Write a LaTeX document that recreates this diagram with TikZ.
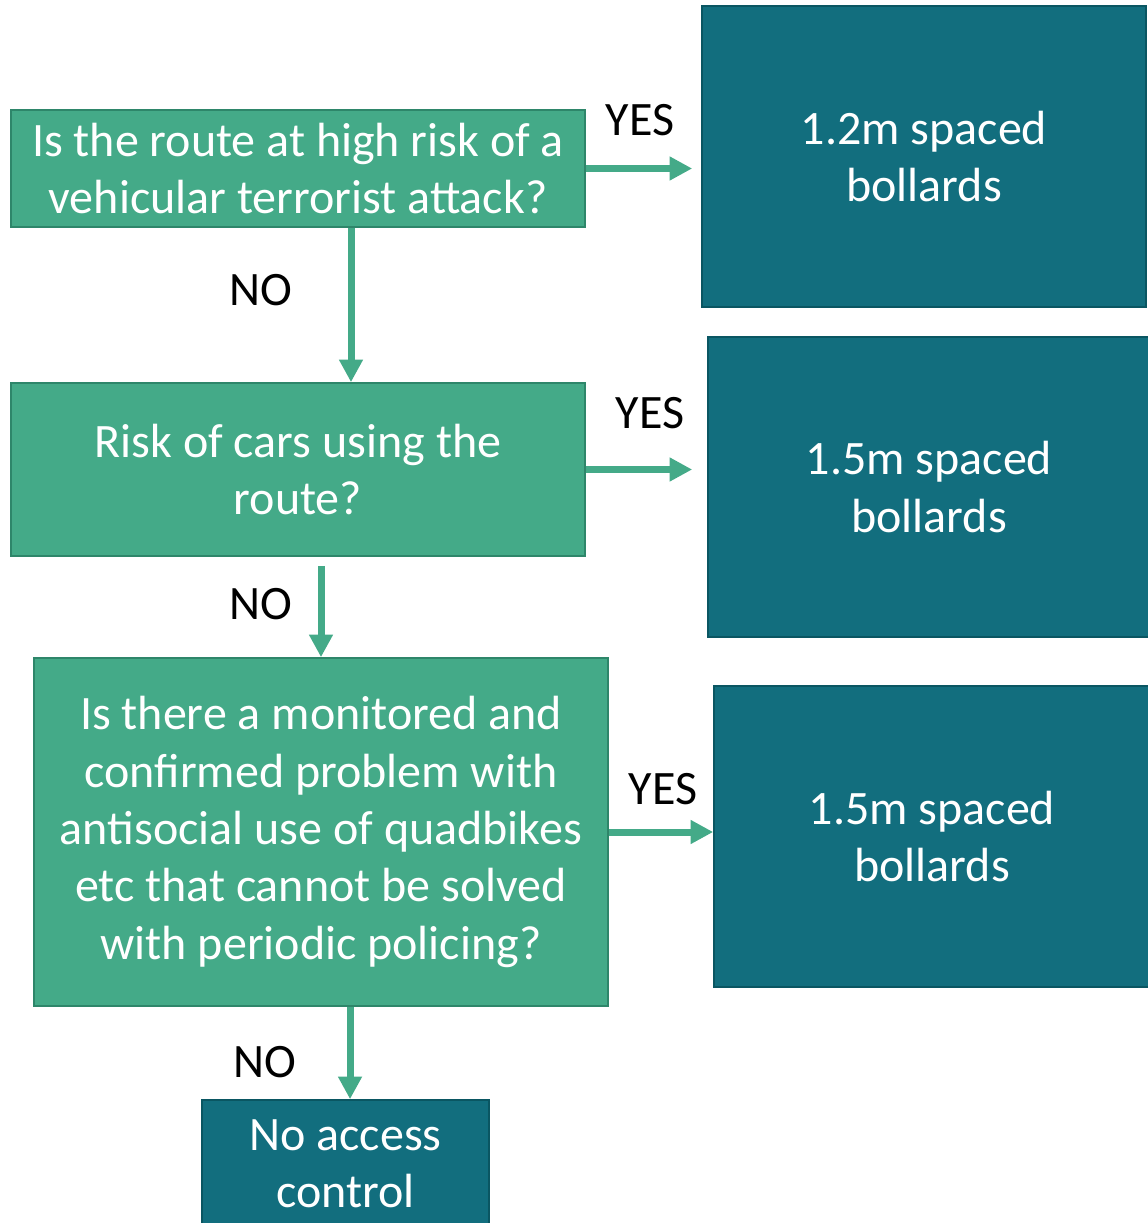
\documentclass[tikz,border=0pt]{standalone}
\usepackage{fontspec}
\setmainfont{Carlito}
\usetikzlibrary{arrows.meta,positioning}
\definecolor{qgreen}{RGB}{68,170,136}
\definecolor{qgreenline}{RGB}{46,134,106}
\definecolor{ateal}{RGB}{18,110,126}
\definecolor{atealline}{RGB}{10,86,98}

\begin{document}
\begin{tikzpicture}[x=0.75pt,y=-0.75pt,
  question/.style={draw=qgreenline,fill=qgreen,line width=1.2pt,text=white,align=center,inner sep=0pt,font=\fontsize{36}{43}\selectfont},
  answer/.style={draw=atealline,fill=ateal,line width=1.2pt,text=white,align=center,inner sep=0pt,font=\fontsize{36}{43}\selectfont},
  lbl/.style={text=black,inner sep=0pt,font=\fontsize{36}{43}\selectfont},
  arr/.style={draw=qgreen,line width=5.25pt,-{Triangle[length=17pt,width=17pt]}}]
 \useasboundingbox (0,0) rectangle (1148,1223);
 % questions
 \node[question,minimum width=430.5pt,minimum height=87.75pt] (q1) at (298,168.5) {Is the route at high risk of a\\vehicular terrorist attack?};
 \node[question,minimum width=430.5pt,minimum height=129.75pt] (q2) at (298,469.5) {Risk of cars using the\\route?};
 \node[question,minimum width=430.5pt,minimum height=261pt] (q3) at (321,832) {Is there a monitored and\\confirmed problem with\\antisocial use of quadbikes\\etc that cannot be solved\\with periodic policing?};

 % answers
 \node[answer,minimum width=333pt,minimum height=225.75pt] (a1) at (924,156.5) {1.2m spaced\\bollards};
 \node[answer,minimum width=331.5pt,minimum height=225pt] (a2) at (929,487) {1.5m spaced\\bollards};
 \node[answer,minimum width=327pt,minimum height=225.75pt] (a3) at (932,836.5) {1.5m spaced\\bollards};
 \node[answer,minimum width=215.25pt,minimum height=96pt] (a4) at (345.5,1164) {No access\\control};

 % labels
 \node[lbl] (yes1) at (640,120) {YES};
 \node[lbl] (yes2) at (650,413) {YES};
 \node[lbl] (yes3) at (663,789) {YES};
 \node[lbl] (no1) at (261,290) {NO};
 \node[lbl] (no2) at (261,604) {NO};
 \node[lbl] (no3) at (265,1062) {NO};

 % connectors
 \foreach \x/\g in {1/6.75pt,2/11.25pt,3/0pt} {
  \draw[arr,shorten >=\g] (q\x.east) -- (q\x.east -| a\x.west);
 };
 \draw[arr] ([xshift=39.75pt]q1.south) -- ([xshift=39.75pt]q2.north);
 \draw[arr,shorten <=6.75pt] (q2.south -| q3.north) -- (q3.north);
 \draw[arr] ([xshift=3.4pt]q3.south -| a4.north) -- ([xshift=3.4pt]a4.north);
\end{tikzpicture}
\end{document}
